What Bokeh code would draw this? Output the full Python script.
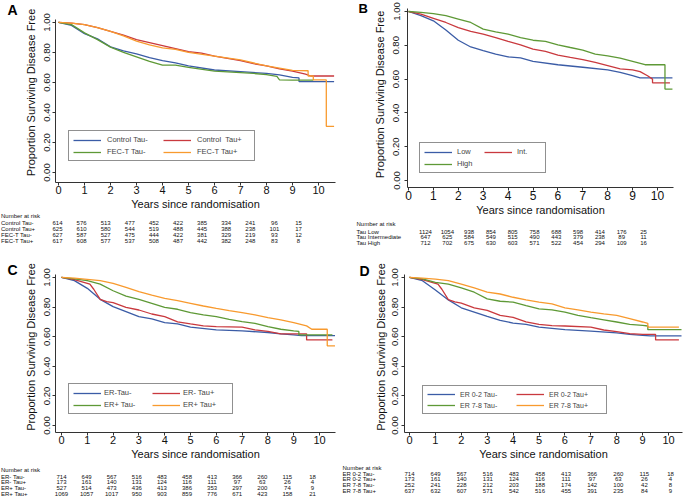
from bokeh.plotting import figure
from bokeh.models import Range1d, Legend, LegendItem, FixedTicker, NumeralTickFormatter
from bokeh.layouts import column, row
from bokeh.embed import file_html
from bokeh.resources import INLINE
from bokeh.core.properties import value

FONT = "Liberation Sans"
BLUE, RED, GREEN, ORANGE = "#3b5ca6", "#c9393e", "#5e9936", "#f89a2e"

years = list(range(11))
year_labels = [str(y) for y in years]
y_ticks = [0.0, 0.2, 0.4, 0.6, 0.8, 1.0]

# ---------------- Panel A ----------------
A_names = ["Control Tau-", "Control  Tau+", "FEC-T Tau-", "FEC-T Tau+"]
A1_t = [0, 0.5, 1, 1.5, 2, 2.5, 3, 3.5, 4, 4.5, 5, 6, 7, 8, 8.5, 9, 9.25, 9.25, 10.6]
A1_s = [1.0, 0.98, 0.925, 0.89, 0.837, 0.81, 0.79, 0.766, 0.745, 0.73, 0.71, 0.683, 0.672, 0.66, 0.65, 0.634, 0.63, 0.606, 0.606]
A2_t = [0, 0.5, 1, 1.5, 2, 2.5, 3, 3.5, 4, 4.5, 5, 5.5, 6, 6.5, 7, 7.5, 8, 8.5, 9, 9.5, 9.7, 10.6]
A2_s = [1.0, 0.995, 0.985, 0.965, 0.94, 0.915, 0.885, 0.865, 0.845, 0.825, 0.805, 0.795, 0.775, 0.76, 0.745, 0.725, 0.71, 0.69, 0.675, 0.655, 0.643, 0.643]
A3_t = [0, 0.5, 1, 1.5, 2, 2.5, 3, 3.5, 4, 4.5, 5, 6, 7, 7.5, 8, 8.4, 8.5, 9, 9.8]
A3_s = [1.0, 0.985, 0.93, 0.885, 0.835, 0.80, 0.77, 0.74, 0.716, 0.715, 0.70, 0.675, 0.665, 0.66, 0.652, 0.64, 0.617, 0.615, 0.615]
A4_t = [0, 0.5, 1, 1.5, 2, 2.5, 3, 3.5, 4, 4.5, 5, 6, 7, 8, 8.5, 9, 9.6, 9.6, 9.8, 9.8, 10.3, 10.3, 10.6]
A4_s = [1.0, 0.995, 0.985, 0.965, 0.94, 0.91, 0.875, 0.85, 0.83, 0.82, 0.80, 0.775, 0.75, 0.71, 0.695, 0.68, 0.678, 0.643, 0.643, 0.617, 0.617, 0.308, 0.308]
A_risk_labels = ["Control Tau-", "Control  Tau+", "FEC-T  Tau-", "FEC-T Tau+"]
A_risk = [[614, 576, 513, 477, 452, 422, 385, 334, 241, 96, 15],
          [625, 610, 580, 544, 519, 488, 445, 388, 238, 101, 17],
          [627, 587, 527, 475, 444, 422, 381, 329, 219, 93, 12],
          [617, 608, 577, 537, 508, 487, 442, 382, 248, 83, 8]]

# ---------------- Panel B ----------------
B_names = ["Low", "Int.", "High"]
B1_t = [0, 0.5, 1, 1.5, 2, 2.5, 3, 3.5, 4, 4.5, 5, 6, 7, 8, 8.5, 9, 9.3, 10.6]
B1_s = [1.0, 0.975, 0.945, 0.89, 0.83, 0.79, 0.768, 0.748, 0.732, 0.725, 0.705, 0.685, 0.67, 0.654, 0.64, 0.62, 0.607, 0.607]
B2_t = [0, 0.5, 1, 1.5, 2, 2.5, 3, 3.5, 4, 4.5, 5, 5.5, 6, 6.5, 7, 7.5, 8, 8.5, 9, 9.3, 9.6, 9.8, 9.8, 10.5]
B2_s = [1.0, 0.985, 0.96, 0.935, 0.905, 0.882, 0.866, 0.846, 0.823, 0.803, 0.778, 0.764, 0.742, 0.728, 0.715, 0.699, 0.68, 0.66, 0.654, 0.644, 0.62, 0.60, 0.578, 0.578]
B3_t = [0, 0.5, 1, 1.5, 2, 2.5, 3, 3.5, 4, 4.5, 5, 5.5, 6, 6.5, 7, 7.5, 8, 8.5, 9, 9.5, 10.3, 10.3, 10.6]
B3_s = [1.0, 0.995, 0.988, 0.975, 0.955, 0.935, 0.896, 0.88, 0.866, 0.846, 0.83, 0.823, 0.803, 0.787, 0.772, 0.748, 0.738, 0.724, 0.705, 0.685, 0.685, 0.541, 0.541]
B_risk_labels = ["Tau Low", "Tau Intermediate", "Tau High"]
B_risk = [[1124, 1054, 938, 854, 805, 758, 688, 598, 414, 176, 25],
          [647, 625, 584, 549, 515, 490, 443, 379, 238, 89, 11],
          [712, 702, 675, 630, 603, 571, 522, 454, 294, 109, 16]]

# ---------------- Panel C ----------------
C_names = ["ER-Tau-", "ER- Tau+", "ER+ Tau-", "ER+ Tau+"]
C1_t = [0, 0.5, 1, 1.5, 2, 2.5, 3, 3.5, 4, 4.5, 5, 6, 7, 8, 8.5, 9, 9.3, 10.6]
C1_s = [1.0, 0.978, 0.926, 0.852, 0.803, 0.769, 0.735, 0.72, 0.695, 0.686, 0.664, 0.646, 0.639, 0.628, 0.619, 0.612, 0.607, 0.607]
C2_t = [0, 0.5, 0.9, 1.1, 1.25, 1.5, 1.75, 2, 2.5, 3, 3.5, 4, 4.5, 5, 5.5, 6, 7, 7.5, 8, 8.5, 9, 9.5, 9.5, 10.5]
C2_s = [1.0, 0.985, 0.965, 0.955, 0.92, 0.852, 0.836, 0.83, 0.798, 0.78, 0.753, 0.735, 0.70, 0.686, 0.673, 0.668, 0.664, 0.646, 0.635, 0.619, 0.619, 0.619, 0.578, 0.578]
C3_t = [0, 0.5, 1, 1.5, 2, 2.5, 3, 3.5, 4, 4.5, 5, 5.5, 6, 6.5, 7, 7.5, 8, 8.5, 9, 9.2, 9.2, 10.5]
C3_s = [1.0, 0.99, 0.978, 0.955, 0.91, 0.874, 0.852, 0.825, 0.798, 0.785, 0.762, 0.747, 0.735, 0.717, 0.702, 0.69, 0.668, 0.65, 0.639, 0.635, 0.612, 0.612]
C4_t = [0, 0.5, 1, 1.5, 2, 2.5, 3, 3.5, 4, 4.5, 5, 5.5, 6, 6.5, 7, 7.5, 8, 8.5, 9, 9.5, 9.7, 10.3, 10.3, 10.6]
C4_s = [1.0, 0.995, 0.987, 0.978, 0.96, 0.933, 0.904, 0.881, 0.859, 0.843, 0.825, 0.807, 0.791, 0.776, 0.762, 0.747, 0.729, 0.713, 0.695, 0.673, 0.65, 0.65, 0.538, 0.538]
C_risk_labels = ["ER- Tau-", "ER-  Tau+", "ER+ Tau-", "ER+ Tau+"]
C_risk = [[714, 649, 567, 516, 483, 458, 413, 366, 260, 115, 18],
          [173, 161, 140, 131, 124, 116, 111, 97, 63, 26, 4],
          [527, 514, 473, 436, 413, 386, 353, 297, 200, 74, 9],
          [1069, 1057, 1017, 950, 903, 859, 776, 671, 423, 158, 21]]

# ---------------- Panel D ----------------
D_names = ["ER 0-2 Tau-", "ER 0-2 Tau+", "ER 7-8 Tau-", "ER 7-8 Tau+"]
D1_t = [0, 0.5, 1, 1.5, 2, 2.5, 3, 3.5, 4, 4.5, 5, 6, 7, 8, 8.5, 9, 9.3, 10.5]
D1_s = [1.0, 0.978, 0.915, 0.848, 0.795, 0.766, 0.737, 0.71, 0.692, 0.683, 0.665, 0.647, 0.638, 0.625, 0.616, 0.609, 0.605, 0.605]
D2_t = [0, 0.5, 0.9, 1.1, 1.25, 1.5, 1.75, 2, 2.5, 3, 3.5, 4, 4.5, 5, 5.5, 6, 7, 7.5, 8, 8.5, 9, 9.5, 9.5, 10.4]
D2_s = [1.0, 0.985, 0.965, 0.955, 0.92, 0.85, 0.835, 0.826, 0.795, 0.778, 0.744, 0.73, 0.70, 0.683, 0.675, 0.672, 0.665, 0.645, 0.634, 0.62, 0.615, 0.615, 0.578, 0.578]
D3_t = [0, 0.5, 1, 1.5, 2, 2.5, 3, 3.5, 4, 4.5, 5, 5.5, 6, 6.5, 7, 7.5, 8, 8.5, 9, 9.2, 9.2, 10.5]
D3_s = [1.0, 0.99, 0.967, 0.955, 0.929, 0.90, 0.855, 0.839, 0.833, 0.81, 0.788, 0.781, 0.766, 0.743, 0.728, 0.714, 0.699, 0.683, 0.676, 0.672, 0.647, 0.647]
D4_t = [0, 0.5, 1, 1.5, 2, 2.5, 3, 3.5, 4, 4.5, 5, 5.5, 6, 6.5, 7, 7.5, 8, 8.5, 9, 9.2, 9.2, 10.4]
D4_s = [1.0, 0.995, 0.989, 0.978, 0.955, 0.929, 0.90, 0.888, 0.866, 0.848, 0.833, 0.821, 0.795, 0.781, 0.766, 0.754, 0.743, 0.721, 0.699, 0.69, 0.665, 0.665]
D_risk_labels = ["ER 0-2 Tau-", "ER 0-2 Tau+", "ER 7-8 Tau-", "ER 7-8 Tau+"]
D_risk = [[714, 649, 567, 516, 483, 458, 413, 366, 260, 115, 18],
          [173, 161, 140, 131, 124, 116, 111, 97, 63, 26, 4],
          [252, 241, 228, 212, 203, 188, 174, 142, 100, 42, 8],
          [637, 632, 607, 571, 542, 516, 455, 391, 235, 84, 9]]


def bare_fig(w, h, xr, yr):
    f = figure(width=w, height=h, title=None, toolbar_location=None, output_backend="svg",
               x_axis_location=None, y_axis_location=None,
               min_border=0, min_border_left=0, min_border_right=0,
               min_border_top=0, min_border_bottom=0,
               x_range=xr, y_range=yr)
    f.outline_line_color = None
    f.grid.visible = False
    return f


def make_panel(letter, curves, names, colors, risk_labels, risk, g):
    W, L, T, H = g["width"], g["left"], g["top"], g["plot_h"]
    lw = g["lfw"]          # width of the letter strip at the left
    ppu = g["y0"] - g["y1"]
    ftop = g["fte"]        # frame top (extended upward so the letter fits in the strip)
    y_lo = -(g["fb"] - g["y0"]) / ppu

    # letter strip; its frame is aligned with the plot frame (rows align plot borders)
    lf = bare_fig(lw, H, Range1d(L, L + lw), Range1d(-g["fb"], -ftop))
    lf.min_border_top = ftop - T
    lf.min_border_bottom = T + H - g["fb"]
    lf.text(x=[g["lx"]], y=[-g["ly"]], text=[letter], text_font=value(FONT),
            text_font_style="bold", text_font_size=value(g["let_fs"]),
            text_baseline="middle", text_align="left", text_color="black")

    p = figure(width=W - lw, height=H, title=None, toolbar_location=None,
               output_backend="svg",
               min_border_left=g["fl"] - (L + lw),
               min_border_right=L + W - g["fr"],
               min_border_top=ftop - T,
               min_border_bottom=T + H - g["fb"],
               x_range=Range1d((g["fl"] - g["x0"]) / g["ppy"], (g["fr"] - g["x0"]) / g["ppy"]),
               y_range=Range1d(y_lo, 1 + (g["y1"] - ftop) / ppu))
    p.outline_line_color = None
    p.grid.visible = False
    for ax in (p.xaxis[0], p.yaxis[0]):
        ax.axis_line_color = "#333333"
        ax.major_tick_line_color = "#333333"
        ax.minor_tick_line_color = None
        ax.major_tick_out = 3
        ax.major_tick_in = 0
        ax.major_label_text_font = FONT
        ax.axis_label_text_font = FONT
        ax.axis_label_text_font_style = "normal"
        ax.major_label_text_color = "#111111"
        ax.axis_label_text_color = "#111111"
    p.xaxis.ticker = FixedTicker(ticks=years)
    p.xaxis.major_label_overrides = {y: s for y, s in zip(years, year_labels)}
    p.xaxis.major_label_text_font_size = g["xtick_fs"]
    p.xaxis.major_label_standoff = 0
    p.xaxis.axis_label = "Years since randomisation"
    p.xaxis.axis_label_text_font_size = "11px"
    p.xaxis.axis_label_standoff = 1
    p.yaxis.ticker = FixedTicker(ticks=y_ticks)
    p.yaxis.bounds = (y_lo, 1 + (g["y1"] - g["ft"]) / ppu)
    p.yaxis.formatter = NumeralTickFormatter(format="0.00")
    p.yaxis.major_label_orientation = "vertical"
    p.yaxis.major_label_text_font_size = "9.5px"
    p.yaxis.major_label_standoff = g["ylab_so"]
    p.yaxis.axis_label = "Proportion Surviving Disease Free"
    p.yaxis.axis_label_text_font_size = "11px"
    p.yaxis.axis_label_standoff = g["ytitle_so"]

    rs = []
    for (t, s), c in zip(curves, colors):
        rs.append(p.line(t, s, line_color=c, line_width=1.3))

    # legend fills column by column: reorder so rows read as in the reference
    items = [LegendItem(label=names[i], renderers=[rs[i]]) for i in g["leg_order"]]
    leg = Legend(items=items, location=g["leg_loc"], ncols=2,
                 border_line_color="#222222", border_line_width=1,
                 background_fill_color="white", background_fill_alpha=1.0,
                 label_text_font=FONT, label_text_font_size=g["leg_fs"],
                 glyph_width=28, glyph_height=8, label_height=8,
                 label_width=g["leg_lw"], label_standoff=g["leg_so"],
                 spacing=3, padding=4, margin=0)
    p.add_layout(leg, "center")

    # number-at-risk table
    TH = g["table_h"]
    ttop = T + H
    tx = lambda px: (px - g["c0"]) / g["cp"]
    ty = lambda py: (py - g["r0"]) / g["rp"]
    t = bare_fig(W, TH, Range1d(tx(L), tx(L + W)), Range1d(ty(ttop + TH), ty(ttop)))
    fs = value(g["tab_fs"])
    t.text(x=[tx(g["rl"])], y=[ty(g["hy"])], text=["Number at risk"], text_font=value(FONT),
           text_font_size=fs, text_baseline="middle", text_align="left", text_color="#111111")
    t.text(x=[tx(g["rl"])] * len(risk_labels), y=list(range(len(risk_labels))), text=risk_labels,
           text_font=value(FONT), text_font_size=fs, text_baseline="middle", text_align="left",
           text_color="#111111")
    xs, ys, txt = [], [], []
    for k, rowvals in enumerate(risk):
        for yr, v in zip(years, rowvals):
            xs.append(yr); ys.append(k); txt.append(str(v))
    t.text(x=xs, y=ys, text=txt, text_font=value(FONT), text_font_size=fs,
           text_baseline="middle", text_align="center", text_color="#111111")
    return column(row(lf, p, spacing=0), t, spacing=0)


gA = dict(left=0, top=0, width=340, plot_h=212, table_h=38, lfw=20, lx=7, ly=10, let_fs="14px",
          fl=55, fr=335, ft=19, fte=2, fb=183, x0=58, ppy=26.0, y1=22, y0=173,
          xtick_fs="11px", ylab_so=2, ytitle_so=5,
          leg_loc=(13, 21), leg_fs="7.5px", leg_lw=53, leg_so=6, leg_order=[0, 2, 1, 3],
          c0=57, cp=24.1, r0=222, rp=6.0, hy=215.5, rl=0.5, tab_fs="6px")
gB = dict(left=340, top=0, width=345, plot_h=218, table_h=32, lfw=28, lx=358, ly=8, let_fs="13px",
          fl=407, fr=673, ft=8, fte=1, fb=187, x0=408, ppy=24.9, y1=11, y0=180,
          xtick_fs="12px", ylab_so=5, ytitle_so=5,
          leg_loc=(12, 14), leg_fs="7.5px", leg_lw=24, leg_so=5, leg_order=[0, 2, 1],
          c0=425, cp=21.8, r0=231, rp=5.8, hy=223, rl=356, tab_fs="6px")
gC = dict(left=0, top=250, width=340, plot_h=212, table_h=41, lfw=20, lx=7, ly=270, let_fs="14px",
          fl=55, fr=335, ft=274, fte=261, fb=433, x0=61, ppy=25.8, y1=277, y0=426,
          xtick_fs="11px", ylab_so=2, ytitle_so=5,
          leg_loc=(13, 18), leg_fs="7.5px", leg_lw=45, leg_so=3, leg_order=[0, 2, 1, 3],
          c0=61, cp=25.1, r0=476, rp=5.8, hy=469, rl=0.5, tab_fs="6px")
gD = dict(left=340, top=250, width=345, plot_h=212, table_h=41, lfw=31, lx=359, ly=271, let_fs="14px",
          fl=403, fr=682, ft=274, fte=261, fb=433, x0=408, ppy=26.0, y1=277, y0=426,
          xtick_fs="11px", ylab_so=3, ytitle_so=3,
          leg_loc=(18, 18), leg_fs="7px", leg_lw=53, leg_so=5, leg_order=[0, 2, 1, 3],
          c0=409, cp=26.1, r0=473, rp=5.8, hy=467, rl=342, tab_fs="6px")

pA = make_panel("A", [(A1_t, A1_s), (A2_t, A2_s), (A3_t, A3_s), (A4_t, A4_s)], A_names,
                [BLUE, RED, GREEN, ORANGE], A_risk_labels, A_risk, gA)
pB = make_panel("B", [(B1_t, B1_s), (B2_t, B2_s), (B3_t, B3_s)], B_names,
                [BLUE, RED, GREEN], B_risk_labels, B_risk, gB)
pC = make_panel("C", [(C1_t, C1_s), (C2_t, C2_s), (C3_t, C3_s), (C4_t, C4_s)], C_names,
                [BLUE, RED, GREEN, ORANGE], C_risk_labels, C_risk, gC)
pD = make_panel("D", [(D1_t, D1_s), (D2_t, D2_s), (D3_t, D3_s), (D4_t, D4_s)], D_names,
                [BLUE, RED, GREEN, ORANGE], D_risk_labels, D_risk, gD)

layout = column(row(pA, pB, spacing=0), row(pC, pD, spacing=0), spacing=0)
open("out.html", "w").write(file_html(layout, INLINE))
